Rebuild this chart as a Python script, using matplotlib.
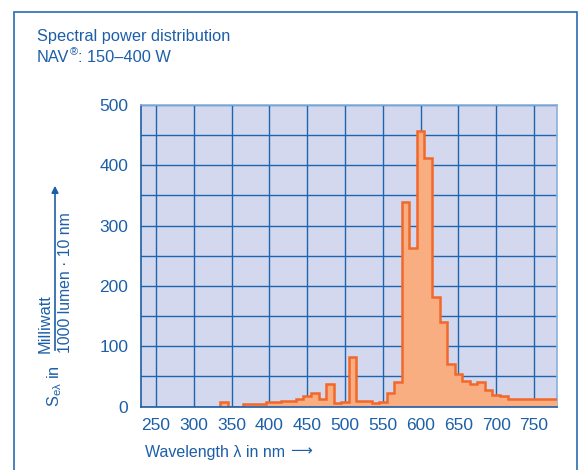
import numpy as np
import matplotlib
matplotlib.use('Agg')
import matplotlib.pyplot as plt
from matplotlib.patches import Rectangle, FancyArrowPatch

# spectral power distribution of NAV 150-400 W (10 nm bins, centre wavelength)
wavelength = [340, 350, 360, 370, 380, 390, 400, 410, 420, 430, 440, 450, 460, 470,
              480, 490, 500, 510, 520, 530, 540, 550, 560, 570, 580, 590, 600, 610,
              620, 630, 640, 650, 660, 670, 680, 690, 700, 710, 720, 730, 740, 750,
              760, 770, 780]
power = [8, 0, 0, 5, 5, 5, 8, 8, 10, 10, 13, 17, 22, 13,
         37, 6, 8, 82, 10, 10, 6, 8, 23, 41, 339, 262, 457, 411,
         181, 141, 71, 54, 43, 38, 41, 28, 20, 17, 13, 13, 13, 13,
         13, 13, 13]
x_ticks = [250, 300, 350, 400, 450, 500, 550, 600, 650, 700, 750]
y_ticks = [0, 100, 200, 300, 400, 500]

blue = '#1C5FA8'
main = 'Liberation Sans'
plt.rcParams['font.family'] = [main, 'DejaVu Sans']
plt.rcParams['mathtext.fontset'] = 'custom'
plt.rcParams['mathtext.rm'] = main
plt.rcParams['mathtext.it'] = main

W, H = 585, 470
fig = plt.figure(figsize=(W / 100, H / 100), dpi=100)
ax = fig.add_axes([0.241, 0.1347, 0.7106, 0.6425])
ax.set_facecolor('#D3D8EE')

edges = np.append(np.array(wavelength) - 5, wavelength[-1] + 5)
ax.stairs(power, edges, baseline=0, fill=True, color='#F9AE82', zorder=3)
ax.stairs(power, edges, baseline=0, fill=False, color='#F2682A', lw=1.8, zorder=4)

ax.set_xlim(230, 780)
ax.set_ylim(0, 500)
ax.set_xticks(x_ticks)
ax.set_yticks(y_ticks)
ax.set_yticks(np.arange(50, 500, 100), minor=True)
ax.grid(True, which='both', color='#2064B0', lw=1.0, zorder=1)
ax.set_axisbelow(True)
ax.tick_params(which='both', length=0, colors=blue, labelsize=12.5)
ax.tick_params(axis='x', pad=8)
ax.tick_params(axis='y', pad=9)
for s in ['left', 'bottom']:
    ax.spines[s].set_color('#1F5EA6')
    ax.spines[s].set_linewidth(1.2)
for s in ['top', 'right']:
    ax.spines[s].set_color('#8CB0DA')
    ax.spines[s].set_linewidth(1.2)
ax.spines['bottom'].set_zorder(5)

renderer = fig.canvas.get_renderer()


def right_px(t):
    # right edge of a text in pixels
    return t.get_window_extent(renderer).x1


def put(xpx, ypx, s, **kw):
    return fig.text(xpx / W, 1 - ypx / H, s, color=blue, **kw)


# titles
put(37, 37, 'Spectral power distribution', fontsize=11.8, va='center')
t = put(37, 57, 'NAV', fontsize=11.8, va='center')
r = put(right_px(t) + 0.5, 52, '®', fontsize=8, va='center')
put(right_px(r) + 0.5, 57, ': 150–400 W', fontsize=11.8, va='center')

# x label
t = put(145, 452, 'Wavelength λ in nm', fontsize=11.5, va='center')
put(right_px(t) + 5, 451, '⟶', fontsize=11, va='center', family='DejaVu Sans')

# y label: S_eλ in  Milliwatt / (1000 lumen · 10 nm), fraction bar is an arrow
put(55, 407, r'S$_{\mathrm{e}\lambda}$ in', fontsize=11.8, rotation=90,
    va='bottom', ha='center')
put(45, 353, 'Milliwatt', fontsize=11.8, rotation=90, va='bottom', ha='center')
put(66, 353, '1000 lumen · 10 nm', fontsize=11.3, rotation=90, va='bottom', ha='center')
arr = FancyArrowPatch((55 / W, 1 - 353 / H), (55 / W, 1 - 183 / H),
                      transform=fig.transFigure, arrowstyle='-|>', mutation_scale=10,
                      color=blue, lw=1.2)
fig.patches.append(arr)

# frame round the figure
fig.patches.append(Rectangle((14 / W, -0.05), (577 - 14) / W, 1 - 12 / H + 0.05,
                             transform=fig.transFigure, fill=False,
                             edgecolor='#2A6CB3', lw=1.2))

fig.savefig('out.png', dpi=100)
